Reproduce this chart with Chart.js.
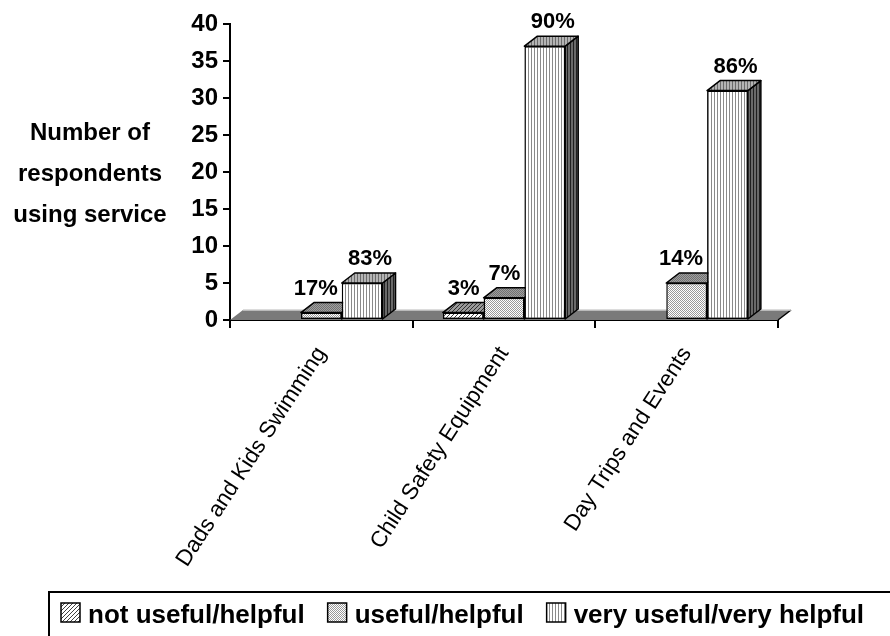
<!DOCTYPE html>
<html>
<head>
<meta charset="utf-8">
<script src="https://cdn.jsdelivr.net/npm/chart.js@4.4.0/dist/chart.umd.min.js"></script>
<style>
  html, body { margin: 0; padding: 0; background: #fff; }
  #wrap { width: 890px; height: 636px; position: relative; }
</style>
</head>
<body>
<div id="wrap"><canvas id="serviceChart"></canvas></div>
<script>
var categories = ['Dads and Kids Swimming', 'Child Safety Equipment', 'Day Trips and Events'];
var seriesNames = ['not useful/helpful', 'useful/helpful', 'very useful/very helpful'];
var notUseful = [0, 1, 0];
var useful = [1, 3, 5];
var veryUseful = [5, 37, 31];
var notUsefulPct = [null, '3%', null];
var usefulPct = ['17%', '7%', '14%'];
var veryUsefulPct = ['83%', '90%', '86%'];
var yMin = 0, yMax = 40, yStep = 5;
var yTitle = ['Number of', 'respondents', 'using service'];

var FONT = '"Liberation Sans", Arial, sans-serif';
var DX = 13, DY = 10; // 3d depth

var canvas = document.getElementById('serviceChart');
var ctx = canvas.getContext('2d');

function makePattern(kind, bg, fg) {
  var c = document.createElement('canvas');
  var p = c.getContext('2d');
  if (kind === 'stripes') {
    c.width = 3; c.height = 3;
    p.fillStyle = bg; p.fillRect(0, 0, 3, 3);
    p.fillStyle = fg; p.fillRect(0, 0, 1, 3);
  } else if (kind === 'dots') {
    c.width = 2; c.height = 2;
    p.fillStyle = bg; p.fillRect(0, 0, 2, 2);
    p.fillStyle = fg; p.fillRect(0, 0, 1, 1); p.fillRect(1, 1, 1, 1);
  } else {
    c.width = 4; c.height = 4;
    p.fillStyle = bg; p.fillRect(0, 0, 4, 4);
    p.fillStyle = fg;
    p.fillRect(3, 0, 1, 1); p.fillRect(2, 1, 1, 1); p.fillRect(1, 2, 1, 1); p.fillRect(0, 3, 1, 1);
  }
  return ctx.createPattern(c, 'repeat');
}

var fronts = [
  makePattern('hatch', '#ffffff', '#404040'),
  makePattern('dots', '#ffffff', '#999999'),
  makePattern('stripes', '#ffffff', '#8a8a8a')
];
var tops = [
  makePattern('hatch', '#9a9a9a', '#303030'),
  makePattern('dots', '#a0a0a0', '#707070'),
  makePattern('stripes', '#b4b4b4', '#6a6a6a')
];
var sides = [
  makePattern('hatch', '#606060', '#202020'),
  makePattern('dots', '#707070', '#404040'),
  makePattern('stripes', '#6a6a6a', '#202020')
];
var pctLabels = [notUsefulPct, usefulPct, veryUsefulPct];

var threeD = {
  id: 'threeD',
  beforeDatasetsDraw: function(chart) {
    var c = chart.ctx, a = chart.chartArea;
    var base = chart.scales.y.getPixelForValue(0);
    c.save();
    // floor
    c.beginPath();
    c.moveTo(a.left, base);
    c.lineTo(a.right, base);
    c.lineTo(a.right + DX, base - DY);
    c.lineTo(a.left + DX, base - DY);
    c.closePath();
    c.fillStyle = '#7a7a7a';
    c.fill();
    c.lineWidth = 1.5;
    c.strokeStyle = '#000';
    c.beginPath();
    c.moveTo(a.right, base);
    c.lineTo(a.right + DX, base - DY);
    c.stroke();
    c.strokeStyle = '#d0d0d0';
    c.beginPath();
    c.moveTo(a.left + DX, base - DY);
    c.lineTo(a.right + DX, base - DY);
    c.stroke();
    // tops and sides, left to right
    c.strokeStyle = '#000';
    c.lineJoin = 'round';
    for (var j = 0; j < categories.length; j++) {
      for (var i = 0; i < chart.data.datasets.length; i++) {
        var v = chart.data.datasets[i].data[j];
        if (!v) continue;
        var b = chart.getDatasetMeta(i).data[j];
        var l = b.x - b.width / 2, r = b.x + b.width / 2, t = b.y, bot = b.base;
        c.beginPath();
        c.moveTo(r, t); c.lineTo(r + DX, t - DY); c.lineTo(r + DX, bot - DY); c.lineTo(r, bot);
        c.closePath();
        c.fillStyle = sides[i]; c.fill(); c.stroke();
        c.beginPath();
        c.moveTo(l, t); c.lineTo(r, t); c.lineTo(r + DX, t - DY); c.lineTo(l + DX, t - DY);
        c.closePath();
        c.fillStyle = tops[i]; c.fill(); c.stroke();
      }
    }
    c.restore();
  },
  afterDatasetsDraw: function(chart) {
    var c = chart.ctx;
    var n = chart.data.datasets.length;
    c.save();
    c.font = 'bold 22px ' + FONT;
    c.fillStyle = '#000';
    c.textBaseline = 'alphabetic';
    for (var i = 0; i < n; i++) {
      var meta = chart.getDatasetMeta(i);
      for (var j = 0; j < categories.length; j++) {
        var txt = pctLabels[i][j];
        if (!txt) continue;
        var b = meta.data[j];
        var next = i < n - 1 ? chart.getDatasetMeta(i + 1).data[j] : null;
        if (next && next.y < b.y) {
          // taller neighbour on the right: keep label clear of it
          c.textAlign = 'right';
          c.fillText(txt, b.x + b.width / 2 - 4, b.y - 18);
        } else {
          c.textAlign = 'center';
          c.fillText(txt, b.x + 8, b.y - 18);
        }
      }
    }
    c.restore();
  },
  afterDraw: function(chart) {
    var c = chart.ctx;
    c.save();
    // y title (horizontal)
    c.font = 'bold 24px ' + FONT;
    c.fillStyle = '#000';
    c.textAlign = 'center';
    c.textBaseline = 'alphabetic';
    var ys = [140, 181, 222];
    for (var k = 0; k < yTitle.length; k++) c.fillText(yTitle[k], 90, ys[k]);
    // legend box
    c.lineWidth = 2;
    c.strokeStyle = '#000';
    c.strokeRect(49, 592, 860, 60);
    c.font = 'bold 26px ' + FONT;
    c.textAlign = 'left';
    var x = 61;
    chart.data.datasets.forEach(function(ds) {
      c.fillStyle = ds.backgroundColor;
      c.fillRect(x, 603, 19, 19);
      c.lineWidth = 1.5;
      c.strokeRect(x, 603, 19, 19);
      x += 27;
      c.fillStyle = '#000';
      c.fillText(ds.label, x, 623);
      x += c.measureText(ds.label).width + 23;
    });
    c.restore();
  }
};

new Chart(ctx, {
  type: 'bar',
  data: {
    labels: categories,
    datasets: [
      { label: seriesNames[0], data: notUseful, backgroundColor: fronts[0] },
      { label: seriesNames[1], data: useful, backgroundColor: fronts[1] },
      { label: seriesNames[2], data: veryUseful, backgroundColor: fronts[2] }
    ]
  },
  options: {
    responsive: true,
    maintainAspectRatio: false,
    animation: false,
    layout: { padding: { left: 0, right: 112, top: 24, bottom: 0 } },
    datasets: {
      bar: {
        barPercentage: 1,
        categoryPercentage: 0.67,
        borderColor: '#000',
        borderWidth: 1.5,
        borderSkipped: false
      }
    },
    plugins: {
      legend: { display: false },
      tooltip: { enabled: false }
    },
    scales: {
      x: {
        afterFit: function(scale) { scale.height = 316; },
        border: { color: '#000', width: 2 },
        grid: { drawOnChartArea: false, color: '#000', lineWidth: 2, tickLength: 8, offset: true },
        ticks: {
          color: '#000',
          font: { family: FONT, size: 22.5 },
          minRotation: 57,
          maxRotation: 57,
          autoSkip: false,
          padding: 14
        }
      },
      y: {
        min: yMin,
        max: yMax,
        afterFit: function(scale) { scale.width = 230; },
        border: { color: '#000', width: 2 },
        grid: { drawOnChartArea: false, color: '#000', lineWidth: 2, tickLength: 7 },
        ticks: {
          stepSize: yStep,
          color: '#000',
          font: { family: FONT, size: 24, weight: 'bold' },
          padding: 5
        }
      }
    }
  },
  plugins: [threeD]
});
</script>
</body>
</html>
